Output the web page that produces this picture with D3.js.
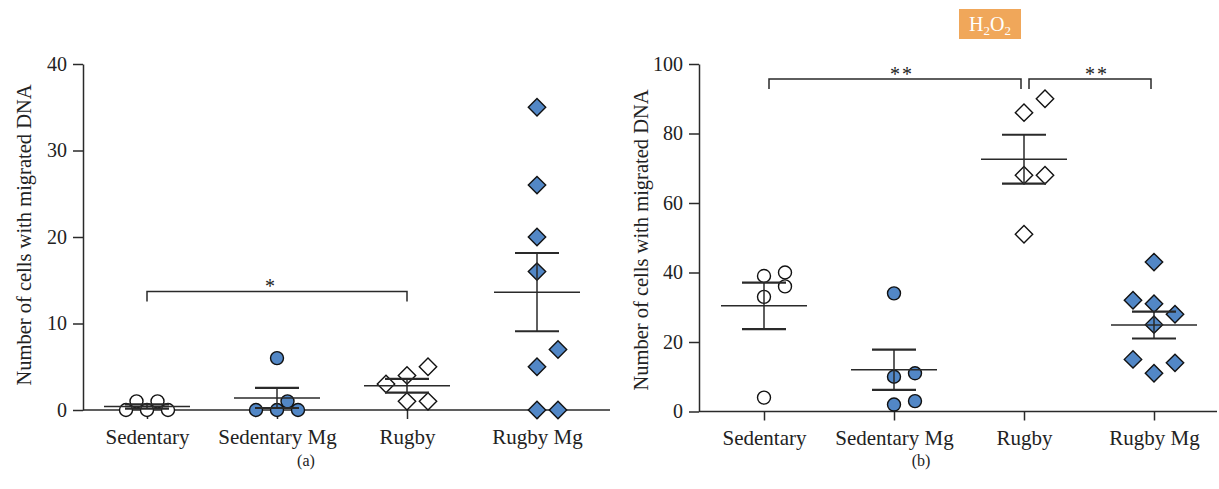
<!DOCTYPE html>
<html>
<head>
<meta charset="utf-8">
<script src="https://cdn.jsdelivr.net/npm/d3@7"></script>
<style>
  body { margin: 0; background: #fff; }
  svg text { font-family: "Liberation Serif", "DejaVu Serif", serif !important; fill: #222; }
</style>
</head>
<body>
<div id="chart"></div>
<script>
// groups on the x axis
const categories = ["Sedentary", "Sedentary Mg", "Rugby", "Rugby Mg"];

// panel (a)
const sedentaryA   = [0, 0, 0, 1, 1];
const sedentaryMgA = [0, 0, 0, 1, 6];
const rugbyA       = [5, 4, 3, 1, 1];
const rugbyMgA     = [35, 26, 20, 16, 7, 5, 0, 0];
const yTicksA = [0, 10, 20, 30, 40];

// panel (b) H2O2
const sedentaryB   = [40, 39, 36, 33, 4];
const sedentaryMgB = [34, 11, 10, 3, 2];
const rugbyB       = [90, 86, 68, 68, 51];
const rugbyMgB     = [43, 32, 31, 28, 25, 15, 14, 11];
const yTicksB = [0, 20, 40, 60, 80, 100];

// significance brackets
const sigA = [{ from: "Sedentary", to: "Rugby", at: 13.7, label: "*" }];
const sigB = [
  { from: "Sedentary", to: "Rugby", at: 95.7, label: "**" },
  { from: "Rugby", to: "Rugby Mg", at: 95.7, label: "**" }
];

const BLUE = "#5287c6", INK = "#2a2a2a", SERIF = "Liberation Serif, DejaVu Serif, serif";
const markers = [
  { shape: "circle", fill: "#fff" },
  { shape: "circle", fill: BLUE },
  { shape: "diamond", fill: "#fff" },
  { shape: "diamond", fill: BLUE }
];

const svg = d3.select("#chart").append("svg")
  .attr("width", 1219).attr("height", 489)
  .attr("font-family", SERIF);

function meanSem(v) {
  let m = d3.mean(v);
  return { mean: m, sem: d3.deviation(v) / Math.sqrt(v.length) };
}

// simple dodge so overlapping points spread sideways
function dodge(values, y, rad) {
  let placed = [];
  let order = values.map((v, i) => i).sort((a, b) => values[a] - values[b]);
  let tries = [0, 21, -21, 10.5, -10.5, 42, -42];
  order.forEach(i => {
    let py = y(values[i]);
    let dx = tries.find(t => placed.every(p => Math.hypot(p.dx - t, p.py - py) >= rad));
    placed.push({ v: values[i], py: py, dx: dx === undefined ? 0 : dx });
  });
  return placed;
}

function drawPanel(opt) {
  let x = d3.scalePoint().domain(categories).range(opt.xRange);
  let y = d3.scaleLinear().domain([0, opt.yMax]).range(opt.yRange);
  let g = svg.append("g");

  // y axis
  let ay = g.append("g")
    .attr("transform", `translate(${opt.left},0)`)
    .call(d3.axisLeft(y).tickValues(opt.ticks).tickSize(10).tickSizeOuter(0).tickPadding(6));
  ay.attr("font-family", SERIF).attr("font-size", 20);
  ay.selectAll("text").attr("fill", "#222");

  // x axis
  let ax = g.append("g")
    .attr("transform", `translate(0,${y(0)})`)
    .call(d3.axisBottom(x).tickSize(9).tickSizeOuter(0).tickPadding(10));
  ax.select(".domain").remove();
  ax.attr("font-family", SERIF).attr("font-size", 21);
  ax.selectAll("text").attr("fill", "#222");
  g.append("line")
    .attr("x1", opt.left).attr("x2", opt.right)
    .attr("y1", y(0)).attr("y2", y(0));

  g.selectAll(".domain, .tick line, line")
    .attr("stroke", INK).attr("stroke-width", 1.5);

  // y label
  g.append("text")
    .attr("transform", `translate(${opt.labelX},${opt.labelY}) rotate(-90)`)
    .attr("text-anchor", "middle")
    .attr("font-size", 20.5)
    .text("Number of cells with migrated DNA");

  // panel letter
  g.append("text")
    .attr("x", opt.letterX).attr("y", 466)
    .attr("text-anchor", "middle")
    .attr("font-size", 16)
    .text(opt.letter);

  // groups
  opt.groups.forEach((vals, gi) => {
    let cx = x(categories[gi]);
    let mk = markers[gi];
    let st = meanSem(vals);

    let pts = dodge(vals, y, mk.shape == "circle" ? 13.5 : 17.5);
    let pg = g.append("g");
    pts.forEach(p => {
      if (mk.shape == "circle") {
        pg.append("circle")
          .attr("cx", cx + p.dx).attr("cy", p.py).attr("r", 6.5)
          .attr("fill", mk.fill).attr("stroke", "#111").attr("stroke-width", 1.4);
      } else {
        let r = 8.7;
        pg.append("path")
          .attr("d", `M0,${-r}L${r},0L0,${r}L${-r},0Z`)
          .attr("transform", `translate(${cx + p.dx},${p.py})`)
          .attr("fill", mk.fill).attr("stroke", "#111").attr("stroke-width", 1.4);
      }
    });

    // mean and SEM drawn on top
    let top = g.append("g").attr("stroke", INK).attr("stroke-width", 1.5);
    top.append("line")
      .attr("x1", cx - 43).attr("x2", cx + 43)
      .attr("y1", y(st.mean)).attr("y2", y(st.mean));
    top.append("line")
      .attr("x1", cx).attr("x2", cx)
      .attr("y1", y(st.mean - st.sem)).attr("y2", y(st.mean + st.sem));
    [st.mean - st.sem, st.mean + st.sem].forEach(v => {
      top.append("line")
        .attr("x1", cx - 22).attr("x2", cx + 22)
        .attr("y1", y(v)).attr("y2", y(v))
        .attr("stroke-width", 2.2);
    });
  });

  // significance brackets
  opt.sig.forEach(s => {
    let x1 = x(s.from) + opt.inset, x2 = x(s.to) - opt.inset * 0.6;
    let yy = y(s.at);
    g.append("path")
      .attr("d", `M${x1},${yy + 10}V${yy}H${x2}V${yy + 10}`)
      .attr("fill", "none").attr("stroke", INK).attr("stroke-width", 1.5);
    g.append("text")
      .attr("x", (x1 + x2) / 2 + opt.starShift).attr("y", yy + 2)
      .attr("text-anchor", "middle")
      .attr("font-size", 20)
      .attr("letter-spacing", 2)
      .text(s.label);
  });
}

drawPanel({
  xRange: [147, 537], yRange: [410, 64], yMax: 40, ticks: yTicksA,
  left: 83, right: 610, labelX: 31, labelY: 235, letter: "(a)", letterX: 306,
  groups: [sedentaryA, sedentaryMgA, rugbyA, rugbyMgA], sig: sigA, inset: 0, starShift: -6
});

drawPanel({
  xRange: [764, 1154], yRange: [411.5, 64], yMax: 100, ticks: yTicksB,
  left: 699, right: 1217, labelX: 648, labelY: 240, letter: "(b)", letterX: 921,
  groups: [sedentaryB, sedentaryMgB, rugbyB, rugbyMgB], sig: sigB, inset: 5, starShift: 7
});

// H2O2 tag
let tag = svg.append("g");
tag.append("rect")
  .attr("x", 959).attr("y", 9).attr("width", 62).attr("height", 30)
  .attr("fill", "#f0a75a");
let tt = tag.append("text")
  .attr("x", 990).attr("y", 31)
  .attr("text-anchor", "middle")
  .attr("font-size", 20).style("fill", "#fff");
tt.append("tspan").text("H");
tt.append("tspan").attr("dy", 4).attr("font-size", 13).text("2");
tt.append("tspan").attr("dy", -4).text("O");
tt.append("tspan").attr("dy", 4).attr("font-size", 13).text("2");
</script>
</body>
</html>
